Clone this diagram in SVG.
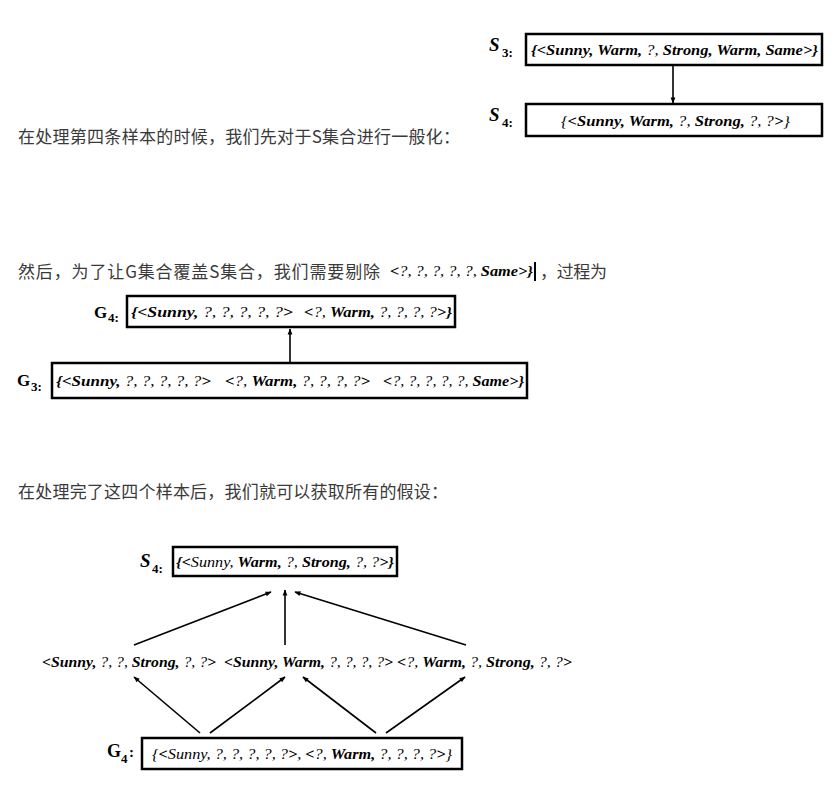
<svg xmlns="http://www.w3.org/2000/svg" width="834" height="798" viewBox="0 0 834 798">
<style>
.zh{font-family:"Noto Sans CJK SC","Microsoft YaHei",sans-serif;font-size:17px;fill:#3a3a3a}
.d{font-family:"Liberation Serif","Times New Roman",serif;font-style:italic;font-size:15px;fill:#000;white-space:pre}
.b{font-weight:bold}
.lab{font-family:"Liberation Serif","Times New Roman",serif;font-weight:bold;fill:#000}
.box{fill:#fff;stroke:#000;stroke-width:2.5}
.ln{stroke:#000;stroke-width:1.6;fill:none}
</style>
<defs>
<marker id="ah" viewBox="0 0 10 10" refX="9" refY="5" markerWidth="9" markerHeight="6" markerUnits="userSpaceOnUse" orient="auto">
<path d="M0,1 L10,5 L0,9 z" fill="#000"/>
</marker>
</defs>
<rect width="834" height="798" fill="#fff"/>

<!-- Chinese text lines -->
<g id="text1"><text class="zh" x="18" y="143" textLength="442">在处理第四条样本的时候，我们先对于S集合进行一般化：</text></g>
<g id="text2">
<text class="zh" x="18" y="278" textLength="362">然后，为了让G集合覆盖S集合，我们需要剔除</text>
<text class="d" x="390" y="276" font-size="12" textLength="143" lengthAdjust="spacingAndGlyphs"><tspan class="b">&lt;</tspan>?, ?, ?, ?, ?, <tspan class="b">Same&gt;}</tspan></text>
<line x1="535" y1="262" x2="535" y2="281" stroke="#000" stroke-width="2"/>
<text class="zh" x="540" y="278" textLength="67">，过程为</text>
</g>
<g id="text3"><text class="zh" x="18" y="498" textLength="430">在处理完了这四个样本后，我们就可以获取所有的假设：</text></g>

<!-- Top diagram -->
<g id="S3">
<text class="lab" x="489" y="51" font-size="19" font-style="italic" font-weight="normal">S</text>
<text class="lab" x="502" y="57" font-size="13">3:</text>
<rect class="box" x="526" y="34" width="296" height="31"/>
<text class="d" x="531" y="55" textLength="287" lengthAdjust="spacingAndGlyphs"><tspan class="b">{&lt;Sunny, Warm,</tspan> ?, <tspan class="b">Strong, Warm, Same&gt;}</tspan></text>
</g>
<g id="S4a">
<text class="lab" x="489" y="121" font-size="19" font-style="italic" font-weight="normal">S</text>
<text class="lab" x="502" y="127" font-size="13">4:</text>
<rect class="box" x="526" y="104" width="296" height="32"/>
<text class="d" x="561" y="126" textLength="229" lengthAdjust="spacingAndGlyphs">{<tspan class="b">&lt;Sunny, Warm,</tspan> ?, <tspan class="b">Strong,</tspan> ?, ?<tspan class="b">&gt;</tspan>}</text>
</g>

<!-- Middle diagram -->
<g id="G4a">
<text class="lab" x="94" y="318" font-size="17">G</text>
<text class="lab" x="108" y="322" font-size="13">4:</text>
<rect class="box" x="127" y="296" width="328" height="31"/>
<text class="d" x="131" y="317" textLength="162" lengthAdjust="spacingAndGlyphs"><tspan class="b">{&lt;Sunny,</tspan> ?, ?, ?, ?, ?<tspan class="b">&gt;</tspan></text>
<text class="d" x="304" y="317" textLength="148" lengthAdjust="spacingAndGlyphs"><tspan class="b">&lt;</tspan>?, <tspan class="b">Warm,</tspan> ?, ?, ?, ?<tspan class="b">&gt;}</tspan></text>
</g>
<g id="G3">
<text class="lab" x="17" y="386" font-size="17">G</text>
<text class="lab" x="31" y="391" font-size="13">3:</text>
<rect class="box" x="52" y="363" width="475" height="35"/>
<text class="d" x="56" y="386" textLength="155" lengthAdjust="spacingAndGlyphs"><tspan class="b">{&lt;Sunny,</tspan> ?, ?, ?, ?, ?<tspan class="b">&gt;</tspan></text>
<text class="d" x="225" y="386" textLength="145" lengthAdjust="spacingAndGlyphs"><tspan class="b">&lt;</tspan>?, <tspan class="b">Warm,</tspan> ?, ?, ?, ?<tspan class="b">&gt;</tspan></text>
<text class="d" x="383" y="386" textLength="141" lengthAdjust="spacingAndGlyphs"><tspan class="b">&lt;</tspan>?, ?, ?, ?, ?, <tspan class="b">Same&gt;}</tspan></text>
</g>

<!-- Bottom diagram -->
<g id="S4b">
<text class="lab" x="140" y="567" font-size="19" font-style="italic" font-weight="normal">S</text>
<text class="lab" x="152" y="573" font-size="13">4:</text>
<rect class="box" x="173" y="547" width="224" height="29"/>
<text class="d" x="176" y="567" textLength="218" lengthAdjust="spacingAndGlyphs"><tspan class="b">{&lt;</tspan>Sunny, <tspan class="b">Warm,</tspan> ?, <tspan class="b">Strong,</tspan> ?, ?<tspan class="b">&gt;}</tspan></text>
</g>
<g id="H1"><text class="d" x="42" y="667" textLength="174" lengthAdjust="spacingAndGlyphs"><tspan class="b">&lt;Sunny,</tspan> ?, ?, <tspan class="b">Strong,</tspan> ?, ?<tspan class="b">&gt;</tspan></text></g>
<g id="H2"><text class="d" x="224" y="667" textLength="169" lengthAdjust="spacingAndGlyphs"><tspan class="b">&lt;Sunny, Warm,</tspan> ?, ?, ?, ?<tspan class="b">&gt;</tspan></text></g>
<g id="H3"><text class="d" x="397" y="667" textLength="175" lengthAdjust="spacingAndGlyphs"><tspan class="b">&lt;</tspan>?, <tspan class="b">Warm,</tspan> ?, <tspan class="b">Strong,</tspan> ?, ?<tspan class="b">&gt;</tspan></text></g>
<g id="G4b">
<text class="lab" x="107" y="757" font-size="18">G</text>
<text class="lab" x="121" y="763" font-size="13">4</text>
<text class="lab" x="129" y="757" font-size="15">:</text>
<rect class="box" x="142" y="738" width="320" height="31"/>
<text class="d" x="152" y="759" textLength="300" lengthAdjust="spacingAndGlyphs">{<tspan class="b">&lt;</tspan>Sunny, ?, ?, ?, ?, ?<tspan class="b">&gt;</tspan>, <tspan class="b">&lt;</tspan>?, <tspan class="b">Warm,</tspan> ?, ?, ?, ?<tspan class="b">&gt;</tspan>}</text>
</g>

<!-- Connectors -->
<g id="connectors">
<line class="ln" x1="673" y1="66" x2="673" y2="103" marker-end="url(#ah)"/>
<line class="ln" x1="290" y1="363" x2="290" y2="329" marker-end="url(#ah)"/>
<line class="ln" x1="134" y1="645" x2="271" y2="592" marker-end="url(#ah)"/>
<line class="ln" x1="285" y1="645" x2="285" y2="590" marker-end="url(#ah)"/>
<line class="ln" x1="466" y1="645" x2="295" y2="592" marker-end="url(#ah)"/>
<line class="ln" x1="200" y1="733" x2="134" y2="677" marker-end="url(#ah)"/>
<line class="ln" x1="210" y1="733" x2="285" y2="677" marker-end="url(#ah)"/>
<line class="ln" x1="376" y1="733" x2="303" y2="677" marker-end="url(#ah)"/>
<line class="ln" x1="386" y1="733" x2="465" y2="677" marker-end="url(#ah)"/>
</g>
</svg>
